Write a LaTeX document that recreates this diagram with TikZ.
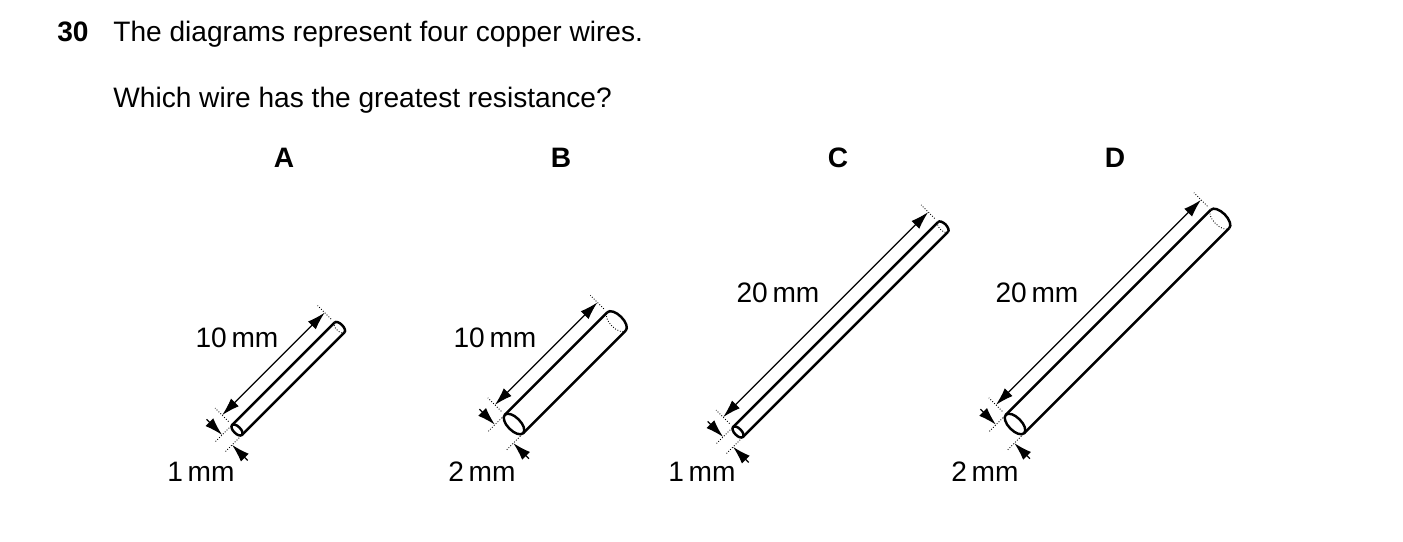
\documentclass[tikz,border=0pt]{standalone}
\usepackage{fontspec}
\setmainfont{Liberation Sans}
\usetikzlibrary{arrows.meta}
\tikzset{
  wire/.style={line width=1.4pt},
  dim/.style={line width=0.7pt},
  tip/.style={-{Latex[length=3.6mm,width=2.2mm]}},
  tick/.style={densely dotted,line width=0.5pt},
  lbl/.style={font=\fontsize{16}{19}\selectfont,inner sep=0pt},
  letter/.style={lbl,font=\fontsize{16}{19}\selectfont\bfseries}
}
\begin{document}
\begin{tikzpicture}[x=0.02cm,y=-0.02cm]
\useasboundingbox (0,0) rectangle (1403,541);
% question text
\node[letter,anchor=base west] (num) at (57,41) {30};
\node[lbl,anchor=base west] (q1) at (113,41) {The diagrams represent four copper wires.};
\node[lbl,anchor=base west] (q2) at (113,107) {Which wire has the greatest resistance?};
% wires
\foreach \px/\py/\len/\rr in {237/430/145/7, 514/424/145/13,
                              738/432/290/7, 1015/424/290/13}{
  \begin{scope}[shift={(\px,\py)},rotate=45]
    \draw[wire] (0,-\rr) -- (\len,-\rr);
    \draw[wire] (0,\rr) -- (\len,\rr);
    \draw[wire] (0,0) ellipse[x radius=0.5*\rr,y radius=\rr];
    \draw[wire] (\len,-\rr) arc[start angle=-90,end angle=90,x radius=0.5*\rr,y radius=\rr];
    \draw[tick] (\len,\rr) arc[start angle=90,end angle=270,x radius=0.5*\rr,y radius=\rr];
    % length
    \draw[dim,{Latex[length=3.6mm,width=2.2mm]}-{Latex[length=3.6mm,width=2.2mm]}]
      (0,-\rr-14) -- (\len,-\rr-14);
    \draw[tick] (0,-\rr-5) -- (0,-\rr-24);
    \draw[tick] (\len,-\rr-5) -- (\len,-\rr-24);
    % diameter
    \draw[tick] (-4,-\rr) -- (-24,-\rr);
    \draw[tick] (-4,\rr) -- (-24,\rr);
    \draw[dim,tip] (-14,-\rr-22) -- (-14,-\rr);
    \draw[dim,tip] (-14,\rr+22) -- (-14,\rr);
  \end{scope}
}
\node[letter] (letA) at (284,158) {A};
\node[letter] (letB) at (561,158) {B};
\node[letter] (letC) at (838,158) {C};
\node[letter] (letD) at (1115,158) {D};
\node[lbl] (lenA) at (237,338) {10\,mm};
\node[lbl] (diaA) at (201,472) {1\,mm};
\node[lbl] (lenB) at (495,338) {10\,mm};
\node[lbl] (diaB) at (482,472) {2\,mm};
\node[lbl] (lenC) at (778,293) {20\,mm};
\node[lbl] (diaC) at (702,472) {1\,mm};
\node[lbl] (lenD) at (1037,293) {20\,mm};
\node[lbl] (diaD) at (985,472) {2\,mm};
\end{tikzpicture}
\end{document}
